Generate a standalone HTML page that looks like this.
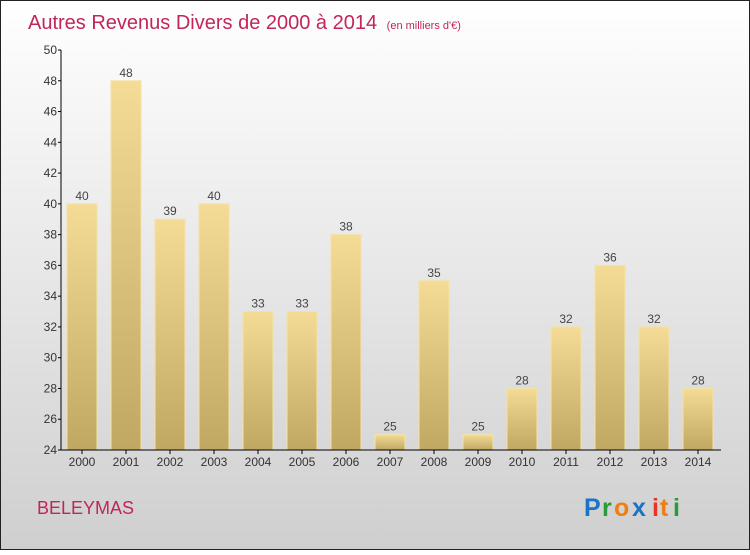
<!DOCTYPE html>
<html><head><meta charset="utf-8"><style>
html,body{margin:0;padding:0}
body{width:750px;height:550px;overflow:hidden;font-family:"Liberation Sans",sans-serif}
</style></head><body>
<svg width="750" height="550" xmlns="http://www.w3.org/2000/svg">
<defs>
<linearGradient id="bg" x1="0" y1="0" x2="0" y2="1"><stop offset="0" stop-color="#ffffff"/><stop offset="1" stop-color="#cfcfcf"/></linearGradient>
<linearGradient id="bar" x1="0" y1="0" x2="0" y2="1"><stop offset="0" stop-color="#f5dc96"/><stop offset="1" stop-color="#c0a862"/></linearGradient>
</defs>
<rect x="0.5" y="0.5" width="749" height="549" fill="url(#bg)" stroke="#222"/>
<text x="28" y="29" font-size="20" fill="#c2255c">Autres Revenus Divers de 2000 à 2014 <tspan font-size="11" dx="4">(en milliers d'€)</tspan></text>
<g id="plot"></g>
<text x="37" y="514" font-size="18" fill="#c2255c">BELEYMAS</text>
<g font-size="25" font-weight="bold">
<text x="584" y="516" fill="#1a73c8">P</text><text x="602" y="516" fill="#2a9a3a">r</text><text x="614" y="516" fill="#f07d12">o</text><text x="632" y="516" fill="#1a73c8">x</text><text x="652" y="516" fill="#e8361e">i</text><text x="660" y="516" fill="#f07d12">t</text><text x="673" y="516" fill="#2a9a3a">i</text>
</g>
</svg>
<script>
const years=["2000","2001","2002","2003","2004","2005","2006","2007","2008","2009","2010","2011","2012","2013","2014"];
const values=[40,48,39,40,33,33,38,25,35,25,28,32,36,32,28];
const yTicks=[24,26,28,30,32,34,36,38,40,42,44,46,48,50];
const NS="http://www.w3.org/2000/svg";
const g=document.getElementById('plot');
const y=v=>450-(v-24)*400/26;
const x=i=>82+i*44;
function mk(t,a,txt){const e=document.createElementNS(NS,t);for(const k in a)e.setAttribute(k,a[k]);if(txt!==undefined)e.textContent=txt;g.appendChild(e);return e;}
values.forEach((v,i)=>{
 const r=mk('rect',{x:x(i)-15,y:y(v),width:30,height:450-y(v),fill:'url(#bar)',stroke:'#f3e2a8','stroke-width':1});
 
 
 const l=mk('text',{x:x(i),y:y(v)-4,'font-size':12,fill:'#444','text-anchor':'middle'},String(v));
 
 
 const tl=mk('text',{x:x(i),y:466,'font-size':12,fill:'#333','text-anchor':'middle'},years[i]);
 
 
 mk('line',{x1:x(i),x2:x(i),y1:450,y2:454,stroke:'#000'});
});
yTicks.forEach(t=>{
 mk('line',{x1:58,x2:61,y1:y(t),y2:y(t),stroke:'#000'});
 const e=mk('text',{x:57,y:y(t)+4,'font-size':12,fill:'#333','text-anchor':'end'},String(t));
 
 
});
const ya=mk('line',{x1:61,x2:61,y1:50,y2:450,stroke:'#000'});


const xa=mk('line',{x1:61,x2:721,y1:450,y2:450,stroke:'#000'});


</script>
</body></html>
